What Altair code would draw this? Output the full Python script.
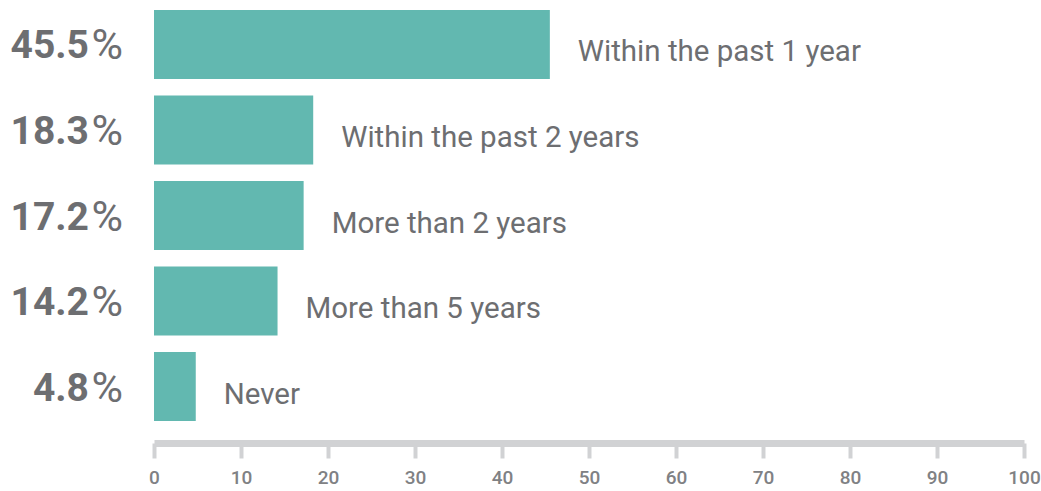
import altair as alt
import pandas as pd

categories = ["Within the past 1 year", "Within the past 2 years", "More than 2 years",
              "More than 5 years", "Never"]
values = [45.5, 18.3, 17.2, 14.2, 4.8]
number_labels = ["45.5", "18.3", "17.2", "14.2", "4.8"]

df = pd.DataFrame({"cat": categories, "val": values, "num": number_labels, "pct": ["%"] * 5})

TEXT = "#6d6e71"
BAR = "#62b8b0"
AXIS = "#d1d2d4"
FONT = "Roboto"

y = alt.Y("cat:N", sort=categories, axis=None,
          scale=alt.Scale(paddingInner=0.193, paddingOuter=0))

bars = alt.Chart(df).mark_bar(color=BAR).encode(
    x=alt.X("val:Q", scale=alt.Scale(domain=[0, 100], nice=False),
            axis=alt.Axis(values=list(range(0, 101, 10)), title=None, grid=False,
                          domainColor=AXIS, domainWidth=7, tickColor=AXIS, tickWidth=4,
                          tickSize=15, offset=22, labelFont=FONT, labelFontSize=19,
                          labelFontWeight=500, labelColor="#808184", labelPadding=10,
                          labelFlush=False)),
    y=y,
)

cat_text = alt.Chart(df).mark_text(align="left", baseline="middle", dx=28, dy=8,
                                   font=FONT, fontSize=29.5, color=TEXT).encode(
    x="val:Q", y=y, text="cat:N")

num_text = alt.Chart(df).mark_text(align="right", baseline="middle", dy=2,
                                   font=FONT, fontSize=39, fontWeight="bold", color=TEXT).encode(
    x=alt.value(-65), y=y, text="num:N")

pct_text = alt.Chart(df).mark_text(align="right", baseline="middle", dy=2,
                                   font=FONT, fontSize=43, fontWeight="normal", color=TEXT).encode(
    x=alt.value(-31), y=y, text="pct:N")

chart = (bars + cat_text + num_text + pct_text).properties(
    width=870, height=411,
    autosize=alt.AutoSizeParams(type="none"),
    padding={"left": 154, "top": 10, "right": 17, "bottom": 70},
).configure_view(stroke=None)

chart.save("out.html", embed_options={"renderer": "svg", "actions": False})
